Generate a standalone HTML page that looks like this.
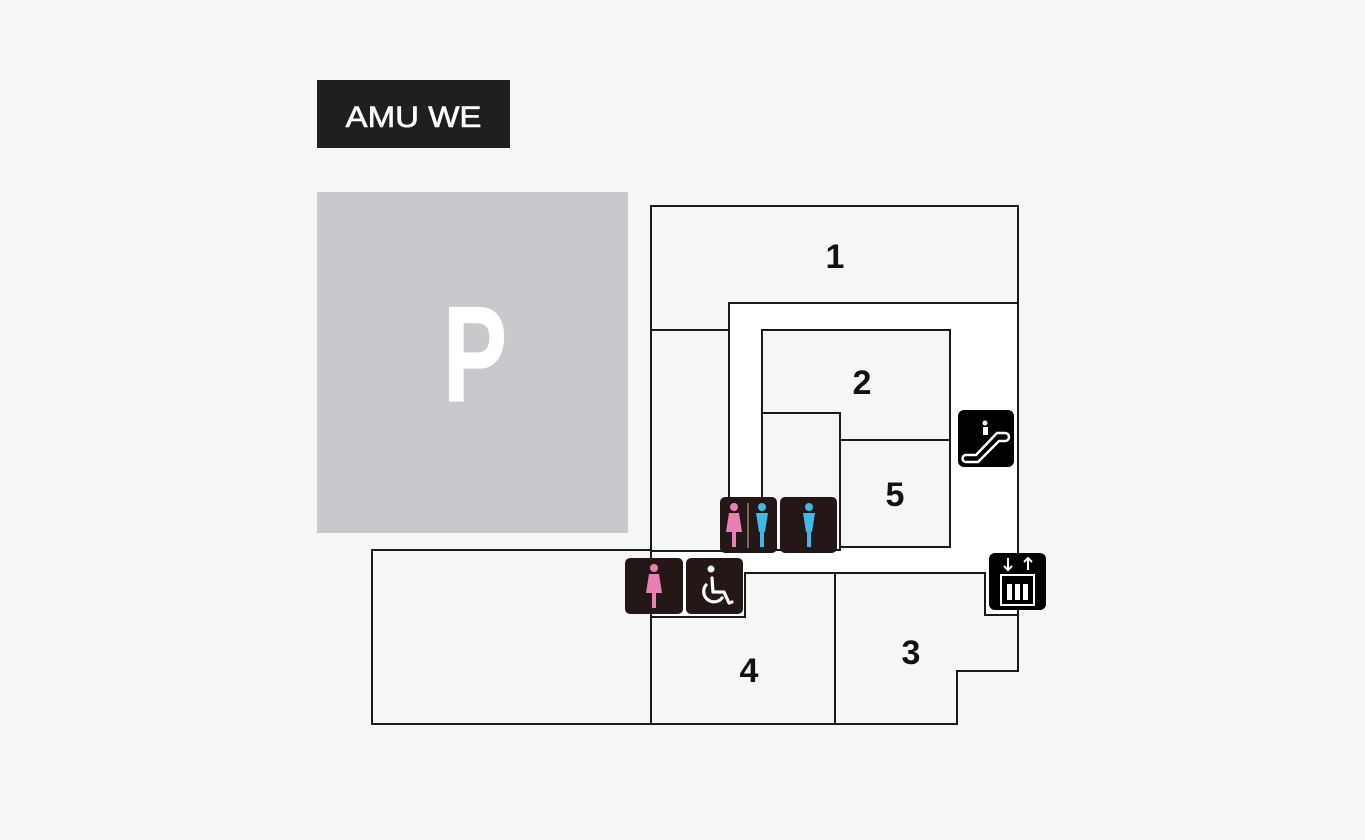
<!DOCTYPE html>
<html><head><meta charset="utf-8"><style>
html,body{margin:0;padding:0;background:#f6f6f6;}
svg{display:block;}
</style></head><body>
<svg width="1365" height="840" viewBox="0 0 1365 840" xmlns="http://www.w3.org/2000/svg">
<rect width="1365" height="840" fill="#f6f6f6"/>
<rect x="317" y="80" width="193" height="68" fill="#1f1f1f"/>
<text x="413.5" y="127" fill="#fff" stroke="#fff" stroke-width="0.6" font-family="Liberation Sans, sans-serif" font-size="30" text-anchor="middle" textLength="136" lengthAdjust="spacingAndGlyphs">AMU WE</text>
<rect x="317" y="192" width="311" height="341" fill="#c8c9cd"/>
<text x="475" y="401" fill="#fff" stroke="#fff" stroke-width="1.2" font-family="Liberation Sans, sans-serif" font-weight="bold" font-size="136" text-anchor="middle" textLength="64" lengthAdjust="spacingAndGlyphs">P</text>

<g stroke="#1a1a1a" stroke-width="2" fill="#f6f6f6">
<polygon fill="#ffffff" points="729,303 1018,303 1018,615 985,615 985,573 745,573 745,617 651,617 651,551 729,551"/>
<polygon fill="#ffffff" stroke="none" points="651,551 729,551 729,573 651,573"/>
<polygon points="651,206 1018,206 1018,303 729,303 729,330 651,330"/>
<polygon points="651,330 729,330 729,551 651,551"/>
<polygon points="372,550 651,550 651,724 372,724"/>
<polygon points="762,330 950,330 950,440 840,440 840,413 762,413"/>
<polygon points="840,440 950,440 950,547 840,547"/>
<polygon points="762,413 840,413 840,550 762,550"/>
<polygon points="651,617 745,617 745,573 835,573 835,724 651,724"/>
<polygon points="835,573 985,573 985,615 1018,615 1018,671 957,671 957,724 835,724"/>
</g>

<g font-family="Liberation Sans, DejaVu Sans, sans-serif" font-weight="bold" font-size="34" fill="#111" text-anchor="middle">
<text x="835" y="268">1</text>
<text x="862" y="394">2</text>
<text x="911" y="664">3</text>
<text x="749" y="682">4</text>
<text x="895" y="506">5</text>
</g>

<g fill="#231815">
<rect x="720" y="497" width="57" height="56" rx="5"/>
<rect x="780" y="497" width="57" height="56" rx="5"/>
<rect x="625" y="558" width="58" height="56" rx="5"/>
<rect x="686" y="558" width="57" height="56" rx="5"/>
<rect x="958" y="410" width="56" height="57" rx="6" fill="#000"/>
<rect x="989" y="553" width="57" height="57" rx="6" fill="#000"/>
</g>
<g>
<g fill="#ea7fb3"><circle cx="734" cy="507" r="4"/><polygon points="729,513 739,513 742,532 726,532"/><rect x="732" y="531" width="4" height="16"/></g>
<rect x="747" y="503" width="2" height="45" fill="#7a6a66"/>
<g fill="#41b9e8"><circle cx="762" cy="507" r="4"/><polygon points="756,513 768,513 765,532 759,532"/><rect x="760" y="531" width="4" height="16"/></g>
<g fill="#41b9e8"><circle cx="809" cy="507" r="4"/><polygon points="803,513 815,513 812,532 806,532"/><rect x="807" y="531" width="4" height="16"/></g>
<g fill="#ea7fb3"><circle cx="654" cy="568" r="4"/><polygon points="649,574 659,574 662,593 646,593"/><rect x="652" y="592" width="4" height="16"/></g>
</g>
<g stroke="#fff" stroke-width="3.2" fill="none" stroke-linecap="round" stroke-linejoin="round">
<path d="M712 578 L713 592 L724 592 L729 603 L732 602"/>
<path d="M706 585 A9.5 9.5 0 1 0 722 598"/>
</g>
<circle cx="711" cy="569" r="3.5" fill="#fff"/>
<g stroke="#fff" stroke-width="2.5" fill="none">
<path d="M966 455 L976 455 L997 433 L1005 433 A4 4 0 0 1 1005 441 L999 441 L978 462 L966 462 A3.5 3.5 0 0 1 966 455 Z"/>
</g>
<circle cx="985" cy="423" r="2.5" fill="#fff"/>
<rect x="983" y="427" width="5" height="8" fill="#fff"/>
<g stroke="#fff" stroke-width="2" fill="none">
<path d="M1008 558 L1008 570 M1004 566 L1008 570 L1012 566"/>
<path d="M1028 570 L1028 558 M1024 562 L1028 558 L1032 562"/>
<rect x="1001" y="575" width="33" height="30"/>
</g>
<g fill="#fff">
<rect x="1007" y="584" width="5" height="16"/><rect x="1015" y="584" width="5" height="16"/><rect x="1023" y="584" width="5" height="16"/>
</g>
</svg>
</body></html>
